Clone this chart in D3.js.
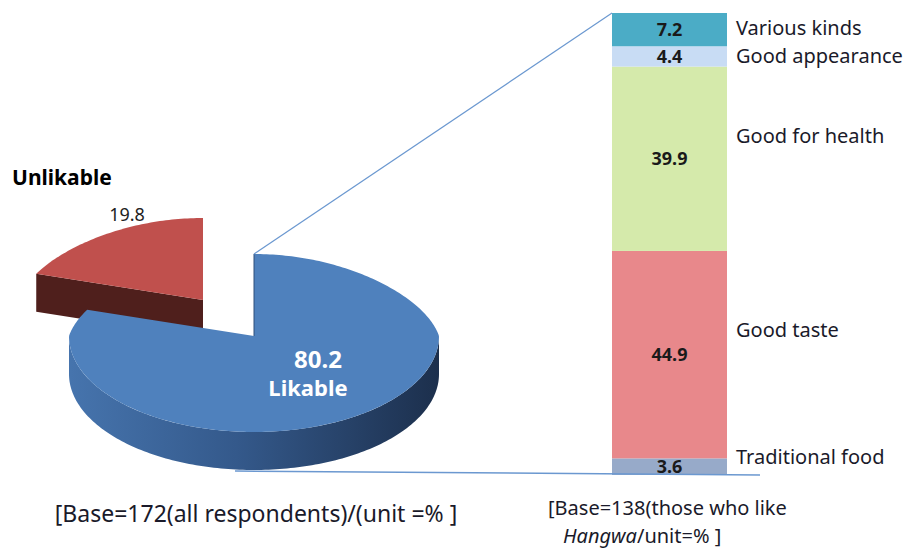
<!DOCTYPE html>
<html>
<head>
<meta charset="utf-8">
<script src="https://cdn.jsdelivr.net/npm/d3@7"></script>
<style>
  body { margin: 0; background: #fff; }
  text { font-family: "Noto Sans", "Open Sans", sans-serif; }
</style>
</head>
<body>
<div id="wrapper"></div>
<script>
// pie: all respondents
const pieLabels = ["Likable", "Unlikable"];
const pieValues = [80.2, 19.8];

// stacked bar: reasons (bottom to top)
const reasons = ["Traditional food", "Good taste", "Good for health", "Good appearance", "Various kinds"];
const reasonValues = [3.6, 44.9, 39.9, 4.4, 7.2];

const captionLeft = "[Base=172(all respondents)/(unit =% ]";
const captionRight1 = "[Base=138(those who like";
const captionRight2a = "Hangwa";
const captionRight2b = "/unit=% ]";

function buildChart() {
    const dimension = { width: 910, height: 550 };

    const svg = d3.select("#wrapper").append("svg")
        .attr("width", dimension.width)
        .attr("height", dimension.height);

    const defs = svg.append("defs");
    const sideGrad = defs.append("linearGradient")
        .attr("id", "blueSide")
        .attr("gradientUnits", "userSpaceOnUse")
        .attr("x1", 70).attr("x2", 440).attr("y1", 0).attr("y2", 0);
    sideGrad.append("stop").attr("offset", "0%").attr("stop-color", "#4674ad");
    sideGrad.append("stop").attr("offset", "45%").attr("stop-color", "#34598b");
    sideGrad.append("stop").attr("offset", "100%").attr("stop-color", "#1c2f4c");

    // ---- 3D pie ----
    const pie = { cx: 254, cy: 336, rx: 185, ryTop: 82, ryBot: 96, depth: 38 };
    const arcs = d3.pie().sort(null).startAngle(0).endAngle(2 * Math.PI)(pieValues);

    // far half a bit narrower (perspective)
    const pt = (a, ox, oy, dz) => {
        const c = Math.cos(a);
        const ry = c > 0 ? pie.ryTop : pie.ryBot;
        const sx = c > 0 ? 1 - 0.15 * c : 1;
        return [pie.cx + ox + pie.rx * Math.sin(a) * sx, pie.cy + oy - ry * c + (dz || 0)];
    };
    const arcPts = (a0, a1, ox, oy, dz) => {
        const n = Math.max(8, Math.ceil(Math.abs(a1 - a0) / 0.02));
        return d3.range(n + 1).map(i => pt(a0 + (a1 - a0) * i / n, ox, oy, dz));
    };
    const line = d3.line();

    const colors = [
        { top: "#4f81bd", cut: "#2f4f7a" },
        { top: "#c0504d", cut: "#4f1f1c" }
    ];

    // unlikable slice, exploded
    const red = arcs[1];
    const off = [-51, -36];
    const apex = [pie.cx + off[0], pie.cy + off[1]];
    const edge = pt(red.startAngle, off[0], off[1]);
    svg.append("path")
        .attr("d", line([apex, [apex[0], apex[1] + pie.depth], [edge[0], edge[1] + pie.depth], edge]) + "Z")
        .attr("fill", colors[1].cut);
    svg.append("path")
        .attr("d", line([apex].concat(arcPts(red.startAngle, red.endAngle, off[0], off[1]))) + "Z")
        .attr("fill", colors[1].top);

    // likable slice
    const blue = arcs[0];
    const wallTop = arcPts(Math.PI / 2, 3 * Math.PI / 2, 0, 0);
    const wallBot = arcPts(3 * Math.PI / 2, Math.PI / 2, 0, 0, pie.depth);
    svg.append("path")
        .attr("d", line(wallTop.concat(wallBot)) + "Z")
        .attr("fill", "url(#blueSide)");
    svg.append("path")
        .attr("d", line([[pie.cx, pie.cy]].concat(arcPts(blue.startAngle, blue.endAngle, 0, 0))) + "Z")
        .attr("fill", colors[0].top);
    svg.append("line")
        .attr("x1", pie.cx).attr("y1", pie.cy)
        .attr("x2", pie.cx).attr("y2", pie.cy - pie.ryTop)
        .attr("stroke", "#2f4f7a").attr("stroke-width", 1);

    svg.append("text")
        .attr("x", 318).attr("y", 368)
        .attr("text-anchor", "middle")
        .attr("fill", "#fff").attr("font-size", 24).attr("font-weight", "bold")
        .text(pieValues[0]);
    svg.append("text")
        .attr("x", 308).attr("y", 396)
        .attr("text-anchor", "middle")
        .attr("fill", "#fff").attr("font-size", 22).attr("font-weight", "bold")
        .text(pieLabels[0]);
    svg.append("text")
        .attr("x", 12).attr("y", 185)
        .attr("fill", "#000").attr("font-size", 21).attr("font-weight", "bold")
        .text(pieLabels[1]);
    svg.append("text")
        .attr("x", 127).attr("y", 221)
        .attr("text-anchor", "middle")
        .attr("fill", "#222").attr("font-size", 18)
        .text(pieValues[1]);

    // ---- stacked bar ----
    const bar = { x: 612, w: 115, top: 13, bottom: 475 };
    const yScale = d3.scaleLinear().domain([0, 100]).range([bar.bottom, bar.top]);
    const barColors = ["#97aac9", "#e8888b", "#d5eaab", "#c8dcf4", "#4bacc6"];
    const labelNudge = [-10, -25, -23, 0, -2];

    let acc = 0;
    const segs = reasonValues.map((v, i) => {
        const s = { name: reasons[i], value: v, y0: acc, y1: acc + v, i: i };
        acc += v;
        return s;
    });

    const g = svg.append("g");
    g.selectAll("rect").data(segs).join("rect")
        .attr("x", bar.x)
        .attr("width", bar.w)
        .attr("y", d => yScale(d.y1))
        .attr("height", d => yScale(d.y0) - yScale(d.y1))
        .attr("fill", d => barColors[d.i]);

    g.selectAll("text.val").data(segs).join("text")
        .attr("class", "val")
        .attr("x", bar.x + bar.w / 2)
        .attr("y", d => yScale((d.y0 + d.y1) / 2))
        .attr("dy", "0.35em")
        .attr("text-anchor", "middle")
        .attr("font-size", 18).attr("font-weight", "bold")
        .attr("fill", "#1a1a1a")
        .text(d => d.value.toFixed(1));

    g.selectAll("text.lab").data(segs).join("text")
        .attr("class", "lab")
        .attr("x", 736)
        .attr("y", d => yScale((d.y0 + d.y1) / 2) + labelNudge[d.i])
        .attr("dy", "0.35em")
        .attr("font-size", 20)
        .attr("fill", "#1a1a2a")
        .text(d => d.name);

    // connector lines
    svg.append("line")
        .attr("x1", pie.cx).attr("y1", pie.cy - pie.ryTop)
        .attr("x2", bar.x).attr("y2", bar.top)
        .attr("stroke", "#6b98d0").attr("stroke-width", 1.2);
    svg.append("line")
        .attr("x1", 235).attr("y1", pie.cy + pie.ryBot + pie.depth + 1)
        .attr("x2", 760).attr("y2", bar.bottom)
        .attr("stroke", "#6b98d0").attr("stroke-width", 1.5);

    // captions
    svg.append("text")
        .attr("x", 256).attr("y", 522)
        .attr("text-anchor", "middle")
        .attr("font-size", 23).attr("fill", "#1a1a2a")
        .text(captionLeft);
    svg.append("text")
        .attr("x", 548).attr("y", 515)
        .attr("font-size", 20).attr("fill", "#1a1a2a")
        .text(captionRight1);
    const t2 = svg.append("text")
        .attr("x", 563).attr("y", 543)
        .attr("font-size", 20).attr("fill", "#1a1a2a");
    t2.append("tspan").attr("font-style", "italic").text(captionRight2a);
    t2.append("tspan").text(captionRight2b);
}

buildChart();
</script>
</body>
</html>
